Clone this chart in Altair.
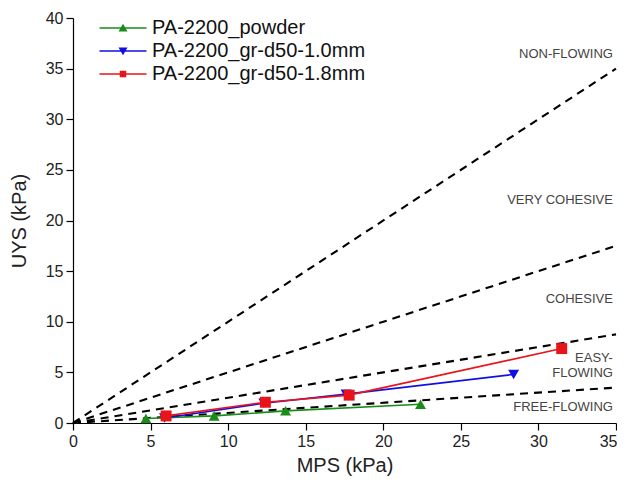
import altair as alt
import pandas as pd

# ---- data ----
series_names = ["PA-2200_powder", "PA-2200_gr-d50-1.0mm", "PA-2200_gr-d50-1.8mm"]
series_colors = ["#1a8c1a", "#1010e0", "#e8141a"]

powder_mps = [4.7, 9.1, 13.7, 22.4]
powder_uys = [0.45, 0.7, 1.2, 1.85]
gr10_mps = [5.9, 12.3, 17.6, 28.4]
gr10_uys = [0.5, 1.95, 2.85, 4.8]
gr18_mps = [6.0, 12.4, 17.8, 31.5]
gr18_uys = [0.7, 2.05, 2.75, 7.35]

# flow-function boundary lines (ffc = 1, 2, 4, 10) from origin to x = 35
ffc_values = [1, 2, 4, 10]
ffc_x_end = 35
ffc_y_end = [35, 17.5, 8.75, 3.5]

region_labels = ["NON-FLOWING", "VERY COHESIVE", "COHESIVE", "EASY-", "FLOWING", "FREE-FLOWING"]
region_label_x = [34.8, 34.8, 34.8, 34.8, 34.8, 34.8]
region_label_y = [36.4, 22.0, 12.2, 6.4, 4.9, 1.6]

x_ticks = [i * 2.5 for i in range(15)]
y_ticks = [i * 2.5 for i in range(17)]

# ---- tables ----
rows = []
for name, xs, ys in [(series_names[0], powder_mps, powder_uys),
                     (series_names[1], gr10_mps, gr10_uys),
                     (series_names[2], gr18_mps, gr18_uys)]:
    for i, (xv, yv) in enumerate(zip(xs, ys)):
        rows.append({"series": name, "MPS": xv, "UYS": yv, "order": i})
pts = pd.DataFrame(rows)

ffc_rows = []
for f, ye in zip(ffc_values, ffc_y_end):
    ffc_rows.append({"ffc": f, "MPS": 0, "UYS": 0})
    ffc_rows.append({"ffc": f, "MPS": ffc_x_end, "UYS": ye})
ffc_df = pd.DataFrame(ffc_rows)

lab_df = pd.DataFrame({"label": region_labels, "MPS": region_label_x, "UYS": region_label_y})

FONT = "Liberation Sans"

x_scale = alt.Scale(domain=[0, 35], nice=False, zero=False)
y_scale = alt.Scale(domain=[0, 40], nice=False, zero=False)

x_axis = alt.Axis(title="MPS (kPa)", values=x_ticks, grid=False,
                  labelExpr="datum.value % 5 === 0 ? datum.label : ''",
                  labelAlign={"condition": {"test": "datum.value === 35", "value": "right"}, "value": "center"},
                  labelOffset={"condition": {"test": "datum.value === 35", "value": 1}, "value": 0},
                  tickSize={"condition": {"test": "datum.value % 5 === 0", "value": 7}, "value": 3},
                  labelFontSize=16, titleFontSize=20, labelPadding=3, titlePadding=6,
                  labelFont=FONT, titleFont=FONT, titleFontWeight="normal",
                  domainColor="#000", tickColor="#000", labelColor="#222", titleColor="#222")
y_axis = alt.Axis(title="UYS (kPa)", values=y_ticks, grid=False,
                  labelExpr="datum.value % 5 === 0 ? datum.label : ''",
                  tickSize={"condition": {"test": "datum.value % 5 === 0", "value": 7}, "value": 3},
                  labelFontSize=16, titleFontSize=20, labelPadding=3, titlePadding=16,
                  labelFont=FONT, titleFont=FONT, titleFontWeight="normal",
                  domainColor="#000", tickColor="#000", labelColor="#222", titleColor="#222")

X = alt.X("MPS:Q", scale=x_scale, axis=x_axis)
Y = alt.Y("UYS:Q", scale=y_scale, axis=y_axis)

color_scale = alt.Scale(domain=series_names, range=series_colors)

dashed = alt.Chart(ffc_df).mark_line(color="#000", strokeWidth=2.1, strokeDash=[8, 6]).encode(
    x=X, y=Y, detail="ffc:N")

labels = alt.Chart(lab_df).mark_text(align="right", baseline="middle", fontSize=13,
                                     font=FONT, color="#444").encode(
    x=alt.X("MPS:Q", scale=x_scale), y=alt.Y("UYS:Q", scale=y_scale), text="label:N")

lines = alt.Chart(pts).mark_line(strokeWidth=1.6).encode(
    x=X, y=Y, order="order:Q",
    color=alt.Color("series:N", scale=color_scale, legend=None))

marker_shapes = ["triangle-up", "triangle-down", "square"]
points = alt.Chart(pts).mark_point(filled=True, opacity=1, size=120).encode(
    x=X, y=Y,
    color=alt.Color("series:N", scale=color_scale, legend=None),
    shape=alt.Shape("series:N", scale=alt.Scale(domain=series_names, range=marker_shapes), legend=None))

bar = "M-4.7,-0.15H4.7V0.15H-4.7Z"
legend_shapes = [
    bar + "M-0.9,0.7L0,-0.85L0.9,0.7Z",
    bar + "M-0.9,-0.7L0.9,-0.7L0,0.85Z",
    bar + "M-0.65,-0.65H0.65V0.65H-0.65Z",
]
legend_props = dict(title=None, orient="none", legendX=40, legendY=0,
                    labelFontSize=20, labelFont=FONT, labelColor="#111", labelLimit=0,
                    labelOffset=19, rowPadding=3, symbolOpacity=1,
                    symbolSize=100, padding=0)
legend_layer = alt.Chart(pts).mark_point(filled=True, opacity=0, size=100).encode(
    x=X, y=Y,
    color=alt.Color("series:N", scale=color_scale, legend=alt.Legend(**legend_props)),
    shape=alt.Shape("series:N", scale=alt.Scale(domain=series_names, range=legend_shapes),
                    legend=alt.Legend(**legend_props)))

chart = alt.layer(dashed, labels, lines, points, legend_layer).resolve_scale(
    color="independent", shape="independent"
).properties(
    width=543, height=405,
    autosize=alt.AutoSizeParams(type="none"),
    padding={"left": 65, "top": 10, "right": 1, "bottom": 56},
    background="white"
).configure_view(stroke=None).configure_axis(domainWidth=1.2, tickWidth=1.2)

chart.save("out.html", embed_options={"renderer": "svg", "actions": False})
